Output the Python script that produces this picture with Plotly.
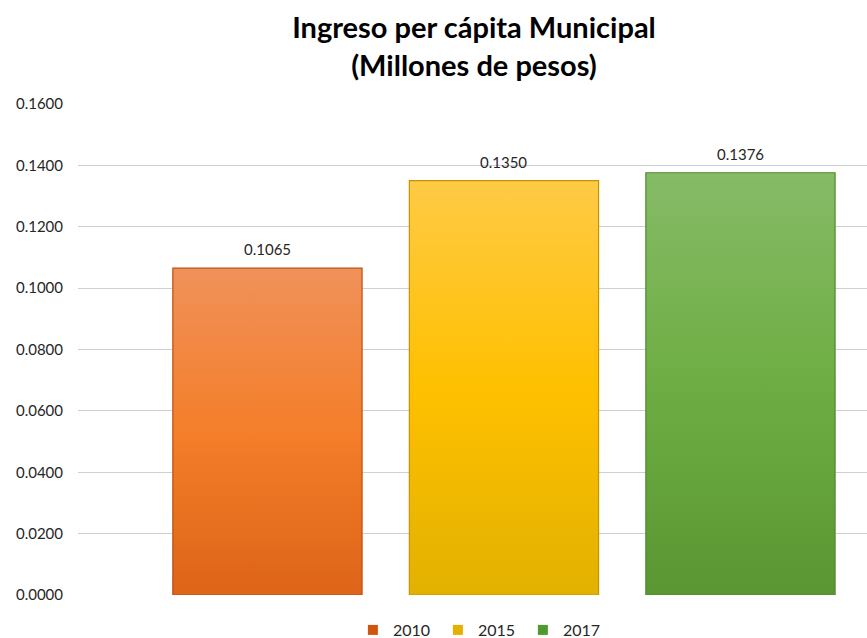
import plotly.graph_objects as go

# Ingreso per cápita municipal, millones de pesos
years = ["2010", "2015", "2017"]
values = [0.1065, 0.1350, 0.1376]
y_ticks = [0.0, 0.02, 0.04, 0.06, 0.08, 0.10, 0.12, 0.14, 0.16]

# Excel-style vertical gradients (bottom -> top) and border colours
gradients = [
    [[0, "#DD6418"], [0.5, "#F47E2A"], [1, "#F0915A"]],
    [[0, "#E2B100"], [0.5, "#FFC000"], [1, "#FFCA45"]],
    [[0, "#5A9632"], [0.5, "#6EAD43"], [1, "#86BB67"]],
]
borders = ["#B9500F", "#C49400", "#4E8A2A"]
legend_colors = ["#D2550E", "#E5B000", "#4E9A2C"]

FONT = "Lato, Carlito, Calibri, sans-serif"
bar_w = 0.8

fig = go.Figure()
for i, (yr, v) in enumerate(zip(years, values)):
    x0, x1 = i - bar_w / 2, i + bar_w / 2
    fig.add_trace(go.Scatter(
        x=[x0, x0, x1, x1, x0],
        y=[0, v, v, 0, 0],
        mode="lines",
        fill="toself",
        fillgradient=dict(type="vertical", colorscale=gradients[i], start=0, stop=v),
        line=dict(color=borders[i], width=1.2),
        name=yr,
        showlegend=False,
        hoverinfo="skip",
    ))
    # legend swatch
    fig.add_trace(go.Scatter(
        x=[None], y=[None], mode="markers",
        marker=dict(symbol="square", size=10, color=legend_colors[i]),
        name=yr, showlegend=True,
    ))
    fig.add_annotation(
        x=i, y=v, text=f"{v:.4f}", showarrow=False,
        yanchor="bottom", yshift=8,
        font=dict(family=FONT, size=15, color="#262626"),
    )

fig.update_layout(
    width=867, height=638,
    margin=dict(l=78, r=0, t=104, b=43, autoexpand=False),
    paper_bgcolor="white", plot_bgcolor="white",
    title=dict(
        text="<b>Ingreso per cápita Municipal<br>(Millones de pesos)</b>",
        x=474 / 867, xanchor="center", xref="container",
        y=1 - 38 / 638, yanchor="top", yref="container",
        font=dict(family=FONT, size=29, color="#000000"),
    ),
    xaxis=dict(range=[-0.801, 2.535], showticklabels=False, showgrid=False,
               zeroline=False, showline=False, fixedrange=True),
    yaxis=dict(range=[0, 0.16], tickvals=y_ticks, tickformat=".4f",
               showgrid=True, gridcolor="#D0D0D0", gridwidth=1,
               zeroline=False, showline=False, ticks="",
               ticklabelstandoff=14,
               tickfont=dict(family=FONT, size=15, color="#262626")),
    legend=dict(orientation="h", x=0.51, xanchor="center",
                y=(638 - 630) / 638, yref="container", yanchor="middle",
                font=dict(family=FONT, size=16, color="#262626"),
                itemwidth=30, entrywidth=40, entrywidthmode="pixels",
                tracegroupgap=0),
    showlegend=True,
)

fig.write_html("out.html")
